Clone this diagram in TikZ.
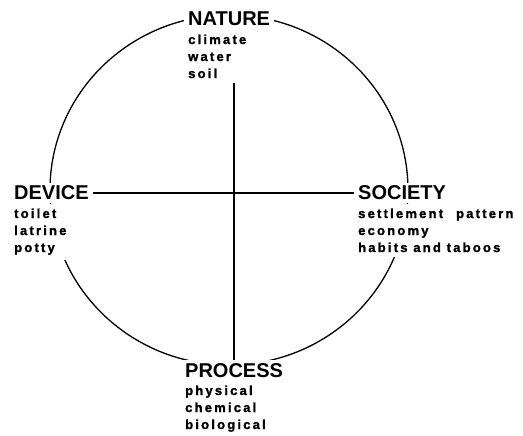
\documentclass[tikz,border=0pt]{standalone}
\usepackage{fontspec}
\setmainfont{Liberation Sans}
\newfontfamily\spacedfont[LetterSpace=17, BoldFeatures={FakeBold=1.5}]{Liberation Sans}
\usetikzlibrary{positioning}

\begin{document}
\begin{tikzpicture}[
      x=1pt, y=-1pt,
      heading/.style={fill=white, inner xsep=4pt, inner ysep=3pt,
                      font=\fontsize{20}{22}\selectfont\bfseries},
      itemlist/.style={fill=white, inner xsep=4pt, inner ysep=5pt, align=left,
                       font=\spacedfont\fontsize{13}{17}\selectfont\bfseries},
      link/.style={line width=1.3pt}
    ]

    \useasboundingbox (0,0) rectangle (523,436);

    %-----------------------------
    % the ring
    %-----------------------------
    \draw[link] (229,190) ellipse [x radius=179pt, y radius=175pt];

    %-----------------------------
    % the four poles
    %-----------------------------
    \node[heading, anchor=base west] (nature) at (184,26) {NATURE};
    \node[itemlist, below right=0pt and 0pt of nature.south west] (natureItems)
      {climate\\water\\soil};

    \node[heading, anchor=base west] (device) at (10,200) {DEVICE};
    \node[itemlist, below right=0pt and 0pt of device.south west] (deviceItems)
      {toilet\\latrine\\potty};

    \node[heading, anchor=base west] (society) at (354,200) {SOCIETY};
    \node[itemlist, below right=0pt and 0pt of society.south west] (societyItems)
      {settlement\hspace{1em}pattern\\economy\\habits and taboos};

    \node[heading, anchor=base west] (process) at (181,377) {PROCESS};
    \node[itemlist, below right=0pt and 0pt of process.south west] (processItems)
      {physical\\chemical\\biological};

    %-----------------------------
    % cross
    %-----------------------------
    \draw[link] (device) -- (society);
    \draw[link] (process.north |- natureItems.south) -- (process.north);

  \end{tikzpicture}
\end{document}
